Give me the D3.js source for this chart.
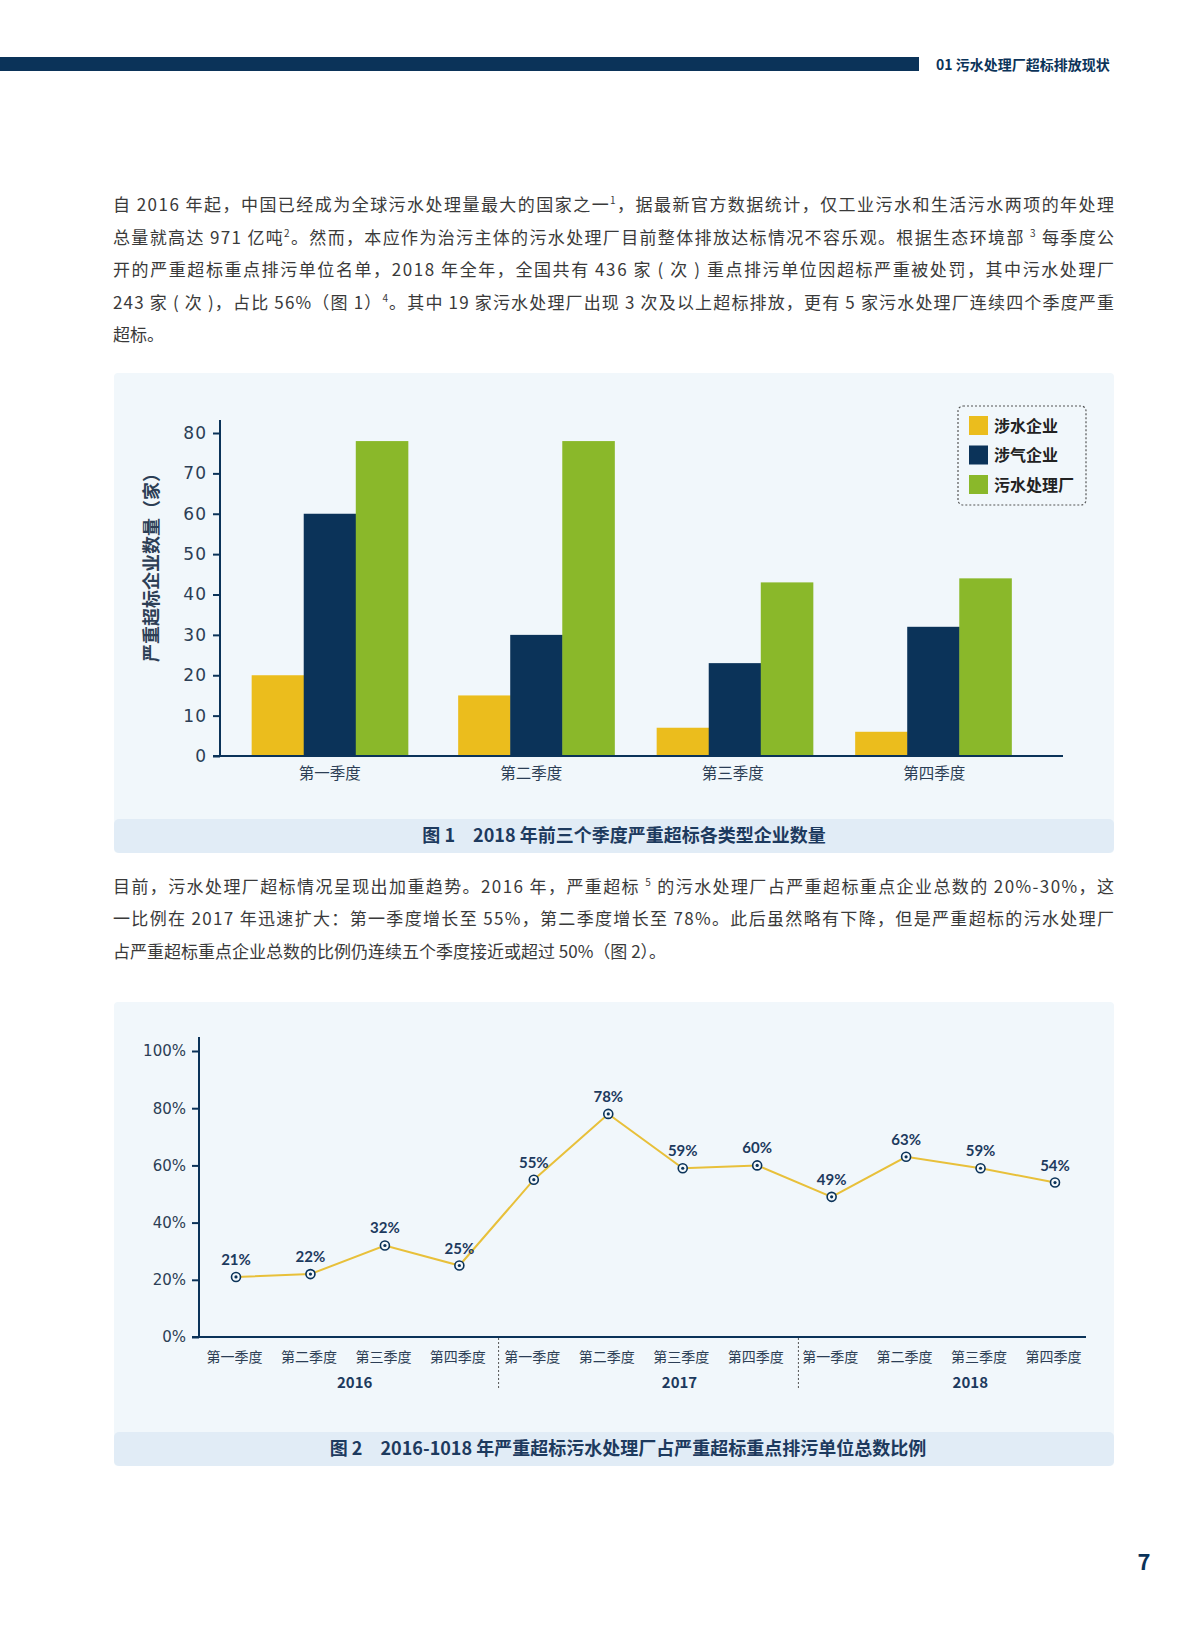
<!DOCTYPE html>
<html><head><meta charset="utf-8">
<script src="https://cdn.jsdelivr.net/npm/d3@7"></script>
<style>
html,body{margin:0;padding:0;background:#fff;}
svg{display:block;}
</style></head>
<body>
<svg id="page" width="1200" height="1630"></svg>
<script>
// ---------- data ----------
const quarters = ["第一季度","第二季度","第三季度","第四季度"];
const seriesNames = ["涉水企业","涉气企业","污水处理厂"];
const waterEnterprises = [20, 15, 7, 6];
const airEnterprises = [60, 30, 23, 32];
const treatmentPlants = [78, 78, 43, 44];
const barTicks = [0,10,20,30,40,50,60,70,80];

const lineQuarters = ["第一季度","第二季度","第三季度","第四季度","第一季度","第二季度","第三季度","第四季度","第一季度","第二季度","第三季度","第四季度"];
const lineYears = ["2016","2017","2018"];
const plantShare = [21, 22, 32, 25, 55, 78, 59, 60, 49, 63, 59, 54];
const pctTicks = [0,20,40,60,80,100];

const para1 = [
  [["自 2016 年起，中国已经成为全球污水处理量最大的国家之一"],["1","sup"],["，据最新官方数据统计，仅工业污水和生活污水两项的年处理"]],
  [["总量就高达 971 亿吨"],["2","sup"],["。然而，本应作为治污主体的污水处理厂目前整体排放达标情况不容乐观。根据生态环境部 "],["3","sup"],[" 每季度公"]],
  [["开的严重超标重点排污单位名单，2018 年全年，全国共有 436 家 ( 次 ) 重点排污单位因超标严重被处罚，其中污水处理厂"]],
  [["243 家 ( 次 )，占比 56%（图 1）"],["4","sup"],["。其中 19 家污水处理厂出现 3 次及以上超标排放，更有 5 家污水处理厂连续四个季度严重"]],
  [["超标。"]]
];
const para2 = [
  [["目前，污水处理厂超标情况呈现出加重趋势。2016 年，严重超标 "],["5","sup"],[" 的污水处理厂占严重超标重点企业总数的 20%-30%，这"]],
  [["一比例在 2017 年迅速扩大：第一季度增长至 55%，第二季度增长至 78%。此后虽然略有下降，但是严重超标的污水处理厂"]],
  [["占严重超标重点企业总数的比例仍连续五个季度接近或超过 50%（图 2）。"]]
];
const caption1 = "图 1　2018 年前三个季度严重超标各类型企业数量";
const caption2 = "图 2　2016-1018 年严重超标污水处理厂占严重超标重点排污单位总数比例";
const headerText = "01  污水处理厂超标排放现状";
const yTitle1 = "严重超标企业数量（家）";

// ---------- styles ----------
const NAVY = "#0b3359";
const YEL = "#ebbd1d";
const GRN = "#8ab82a";
const PANEL = "#f1f7fb";
const BAND = "#e1ecf6";
const FONT = "'Noto Sans CJK SC','Noto Sans',sans-serif";
const NUMFONT = "'DejaVu Sans', sans-serif";
const TEXTC = "#3a3a3a";
const AXC = "#2c3e55";
const PX0 = 114, PX1 = 1114, PW = PX1 - PX0;

const svg = d3.select("#page").style("font-family", FONT);

// header
svg.append("rect").attr("x",0).attr("y",57).attr("width",919).attr("height",14).attr("fill",NAVY);
svg.append("text").attr("x",936).attr("y",70).attr("font-size",14).attr("font-weight",700)
  .attr("fill",NAVY).text(headerText);

// paragraphs
function drawPara(lines, y0, lh) {
  lines.forEach((parts, i) => {
    const t = svg.append("text").attr("x",113).attr("y",y0 + i*lh)
      .attr("font-size",17).attr("fill",TEXTC);
    if (i < lines.length-1) t.attr("textLength",PX1-113).attr("lengthAdjust","spacing");
    parts.forEach(p => {
      const ts = t.append("tspan").text(p[0]);
      if (p[1]==="sup") ts.attr("font-size",10).attr("baseline-shift","70%");
    });
  });
}
drawPara(para1, 211, 32.5);
drawPara(para2, 893, 32.3);

// ---------- chart 1 ----------
svg.append("rect").attr("x",PX0).attr("y",373).attr("width",PW).attr("height",480).attr("fill",PANEL).attr("rx",4);
svg.append("rect").attr("x",PX0).attr("y",819).attr("width",PW).attr("height",34).attr("fill",BAND).attr("rx",5);
svg.append("text").attr("x",624).attr("y",842).attr("text-anchor","middle").attr("font-size",18)
  .attr("font-weight",700).attr("fill","#1d3a5e").text(caption1);

const y1 = d3.scaleLinear().domain([0,80]).range([756,433]);
const x1 = d3.scaleBand().domain(quarters).range([229,1035]).paddingInner(0.225).paddingOuter(0.1125);
const xs1 = d3.scaleBand().domain(seriesNames).range([0, x1.bandwidth()]);
const colors = d3.scaleOrdinal().domain(seriesNames).range([YEL, NAVY, GRN]);
const barData = quarters.map((q,i)=>({q, vals:[waterEnterprises[i], airEnterprises[i], treatmentPlants[i]]}));
const groupNudge = [0, 5, 2, -1];

const g1 = svg.append("g");
g1.selectAll("g.grp").data(barData).join("g").attr("class","grp")
  .attr("transform", (d,i)=>`translate(${x1(d.q)+groupNudge[i]},0)`)
  .selectAll("rect").data(d=>d.vals.map((v,j)=>({name:seriesNames[j], v})))
  .join("rect")
  .attr("x", d=>xs1(d.name)).attr("width", xs1.bandwidth()+0.5)
  .attr("y", d=>y1(d.v)).attr("height", d=>y1(0)-y1(d.v))
  .attr("fill", d=>colors(d.name));

// y axis
const ya1 = g1.append("g").attr("transform","translate(220,0)")
  .call(d3.axisLeft(y1).tickValues(barTicks).tickSize(7).tickPadding(6));
ya1.select(".domain").remove();
ya1.selectAll(".tick line").attr("stroke",NAVY).attr("stroke-width",2);
ya1.selectAll(".tick text").attr("font-size",17).attr("fill",AXC).attr("font-family",NUMFONT).attr("letter-spacing",1);
g1.append("line").attr("x1",220).attr("x2",220).attr("y1",420).attr("y2",757).attr("stroke",NAVY).attr("stroke-width",2);
// x axis
const xa1 = g1.append("g").attr("transform","translate(0,756)")
  .call(d3.axisBottom(x1).tickSize(0).tickPadding(12));
xa1.select(".domain").remove();
xa1.selectAll(".tick text").attr("font-size",15.5).attr("fill",AXC).attr("font-family",FONT);
g1.append("line").attr("x1",213).attr("x2",1063).attr("y1",756).attr("y2",756).attr("stroke",NAVY).attr("stroke-width",2);
// y title
g1.append("text").attr("transform","translate(158,563) rotate(-90)").attr("text-anchor","middle")
  .attr("font-size",18).attr("font-weight",700).attr("fill",AXC).text(yTitle1);
// legend
const lg = g1.append("g");
lg.append("rect").attr("x",958).attr("y",406).attr("width",128).attr("height",99).attr("rx",5)
  .attr("fill","none").attr("stroke","#555").attr("stroke-width",1.2).attr("stroke-dasharray","2,2");
seriesNames.forEach((n,i)=>{
  lg.append("rect").attr("x",969).attr("y",416+i*29.5).attr("width",19).attr("height",19).attr("fill",colors(n));
  lg.append("text").attr("x",994).attr("y",431.5+i*29.5).attr("font-size",16).attr("font-weight",700).attr("fill","#222").text(n);
});

// ---------- chart 2 ----------
svg.append("rect").attr("x",PX0).attr("y",1002).attr("width",PW).attr("height",464).attr("fill",PANEL).attr("rx",4);
svg.append("rect").attr("x",PX0).attr("y",1432).attr("width",PW).attr("height",34).attr("fill",BAND).attr("rx",5);
svg.append("text").attr("x",628).attr("y",1455).attr("text-anchor","middle").attr("font-size",18)
  .attr("font-weight",700).attr("fill","#1d3a5e").text(caption2);

const idx = d3.range(plantShare.length);
const x2 = d3.scalePoint().domain(idx).range([236,1055]);
const y2 = d3.scaleLinear().domain([0,100]).range([1337,1051]);
const g2 = svg.append("g");

const ya2 = g2.append("g").attr("transform","translate(199,0)")
  .call(d3.axisLeft(y2).tickValues(pctTicks).tickFormat(d=>d+"%").tickSize(7).tickPadding(6));
ya2.select(".domain").remove();
ya2.selectAll(".tick line").attr("stroke",NAVY).attr("stroke-width",2);
ya2.selectAll(".tick text").attr("font-size",15).attr("fill",AXC).attr("font-family",NUMFONT);
g2.append("line").attr("x1",199).attr("x2",199).attr("y1",1037).attr("y2",1338).attr("stroke",NAVY).attr("stroke-width",2);

const xa2 = g2.append("g").attr("transform","translate(0,1337)")
  .call(d3.axisBottom(x2).tickSize(0).tickPadding(15).tickFormat(i=>lineQuarters[i]));
xa2.select(".domain").remove();
xa2.selectAll(".tick text").attr("font-size",14).attr("fill",AXC).attr("font-family",FONT)
  .attr("transform","translate(-2,0)");
g2.append("line").attr("x1",192).attr("x2",1086).attr("y1",1337).attr("y2",1337).attr("stroke",NAVY).attr("stroke-width",2);

// year dividers & labels
const step = x2.step();
[3,7].forEach((i,k)=>{
  const xx = x2(i) + step/2 + (k===0 ? 2 : 4);
  g2.append("line").attr("x1",xx).attr("x2",xx).attr("y1",1338).attr("y2",1389)
    .attr("stroke","#555").attr("stroke-width",1).attr("stroke-dasharray","2,2");
});
const yearNudge = [7, 34, 27];
lineYears.forEach((yr,k)=>{
  const xx = (x2(k*4+1) + x2(k*4+2))/2 + yearNudge[k];
  g2.append("text").attr("x",xx).attr("y",1388).attr("text-anchor","middle")
    .attr("font-size",15).attr("font-weight",700).attr("fill","#1d3a5e").text(yr);
});

// line
g2.append("path").datum(idx)
  .attr("d", d3.line().x(i=>x2(i)).y(i=>y2(plantShare[i])))
  .attr("fill","none").attr("stroke","#e8c03a").attr("stroke-width",2);
const pts = g2.selectAll("g.pt").data(idx).join("g").attr("class","pt")
  .attr("transform", i=>`translate(${x2(i)},${y2(plantShare[i])})`);
pts.append("circle").attr("r",4.5).attr("fill","#f4f8fb").attr("stroke",NAVY).attr("stroke-width",1.6);
pts.append("circle").attr("r",1.6).attr("fill",NAVY);
pts.append("text").attr("y",-12).attr("text-anchor","middle").attr("font-size",15).attr("font-weight",700)
  .attr("fill","#1d3a5e").attr("font-family","Lato, 'Noto Sans', sans-serif").text(i=>plantShare[i]+"%");

// page number
svg.append("text").attr("x",1144).attr("y",1570).attr("text-anchor","middle").attr("font-size",22)
  .attr("font-weight",700).attr("fill",NAVY).text("7");
</script>
</body></html>
